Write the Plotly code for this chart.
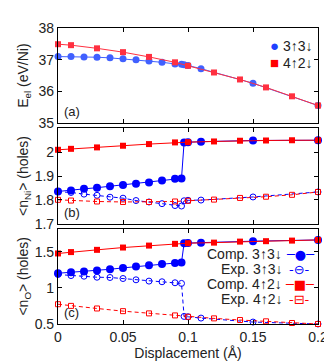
"""
Electronic energy and hole occupations vs. displacement, three stacked panels
"""

import plotly.graph_objects as go
from plotly.subplots import make_subplots

# displacement grids (Angstrom)
x_33 = [0, 0.01, 0.02, 0.03, 0.04, 0.05, 0.06, 0.07, 0.08, 0.09, 0.095, 0.097, 0.1, 0.11, 0.15, 0.2]
x_42 = [0, 0.01, 0.03, 0.05, 0.07, 0.09, 0.1, 0.12, 0.14, 0.16, 0.18, 0.2]

# (a) E_el (eV/Ni)
e_33 = [37.10, 37.10, 37.09, 37.08, 37.06, 37.03, 37.00, 36.96, 36.92, 36.87, 36.86, 36.84, 36.82, 36.72, 36.26, 35.56]
e_42 = [37.49, 37.46, 37.36, 37.24, 37.09, 36.92, 36.81, 36.60, 36.38, 36.13, 35.85, 35.56]

# (b) <n_Ni> (holes)
ni_comp_33 = [1.835, 1.839, 1.846, 1.851, 1.857, 1.862, 1.867, 1.873, 1.881, 1.888, 1.890, 2.041, 2.042, 2.044, 2.049, 2.050]
ni_exp_33 = [1.834, 1.831, 1.824, 1.819, 1.811, 1.807, 1.797, 1.791, 1.784, 1.776, 1.774, 1.796, 1.798, 1.799, 1.812, 1.833]
ni_comp_42 = [2.010, 2.014, 2.020, 2.027, 2.034, 2.041, 2.042, 2.045, 2.048, 2.049, 2.050, 2.050]
ni_exp_42 = [1.800, 1.797, 1.793, 1.791, 1.791, 1.793, 1.796, 1.801, 1.808, 1.813, 1.821, 1.833]

# (c) <n_O> (holes)
o_comp_33 = [1.203, 1.216, 1.226, 1.240, 1.258, 1.277, 1.295, 1.312, 1.330, 1.345, 1.353, 1.619, 1.623, 1.627, 1.647, 1.664]
o_exp_33 = [1.185, 1.171, 1.162, 1.148, 1.144, 1.130, 1.112, 1.094, 1.085, 1.071, 1.062, 0.605, 0.600, 0.582, 0.527, 0.500]
o_comp_42 = [1.477, 1.496, 1.527, 1.559, 1.586, 1.610, 1.619, 1.627, 1.641, 1.647, 1.655, 1.664]
o_exp_42 = [0.774, 0.751, 0.715, 0.678, 0.647, 0.619, 0.600, 0.578, 0.555, 0.537, 0.514, 0.500]

x_ticks = [0, 0.05, 0.1, 0.15, 0.2]
x_ticktext = ["0", "0.05", "0.1", "0.15", "0.2"]

BLUE = "#0000ff"
RED = "#ff0000"
FONT = "Liberation Sans, Arial, sans-serif"

fig = make_subplots(rows=3, cols=1, shared_xaxes=True, vertical_spacing=0.017)


def comp(x, y, color, symbol, size, row, lw=1):
    fig.add_trace(go.Scatter(x=x, y=y, mode="lines+markers",
                             line=dict(color=color, width=lw),
                             marker=dict(color=color, symbol=symbol, size=size),
                             showlegend=False, cliponaxis=False), row=row, col=1)


def exp(x, y, color, symbol, size, row):
    fig.add_trace(go.Scatter(x=x, y=y, mode="lines+markers",
                             line=dict(color=color, width=1, dash="4px,3px"),
                             marker=dict(color=color, symbol=symbol, size=size,
                                         line=dict(color=color, width=1)),
                             showlegend=False, cliponaxis=False), row=row, col=1)


# (a)
comp(x_33, e_33, "#4060ff", "circle", 7, 1)
comp(x_42, e_42, "#ff3040", "square", 6, 1)

# (b)
comp(x_33, ni_comp_33, BLUE, "circle", 8, 2)
exp(x_33, ni_exp_33, BLUE, "circle-open", 6, 2)
comp(x_42, ni_comp_42, RED, "square", 6, 2)
exp(x_42, ni_exp_42, RED, "square-open", 5, 2)

# (c)
comp(x_33, o_comp_33, BLUE, "circle", 8, 3)
exp(x_33, o_exp_33, BLUE, "circle-open", 6, 3)
comp(x_42, o_comp_42, RED, "square", 6, 3)
exp(x_42, o_exp_42, RED, "square-open", 5, 3)

axis_style = dict(showline=True, linecolor="black", linewidth=1.2, mirror="allticks",
                  ticks="inside", ticklen=4, tickcolor="black", tickwidth=1,
                  showgrid=False, zeroline=False,
                  tickfont=dict(family=FONT, size=14, color="#222"))

for r in (1, 2, 3):
    fig.update_xaxes(range=[0, 0.2], tickvals=x_ticks, ticktext=x_ticktext,
                     showticklabels=(r == 3), row=r, col=1, **axis_style)

fig.update_xaxes(title=dict(text="Displacement (Å)", standoff=4,
                            font=dict(family=FONT, size=14, color="#222")), row=3, col=1)

title_font = dict(family=FONT, size=14, color="#222")
fig.update_yaxes(range=[35, 38], tickvals=[35, 36, 37, 38], row=1, col=1,
                 title=dict(text="E<sub>el</sub> (eV/Ni)", font=title_font, standoff=6), **axis_style)
fig.update_yaxes(range=[1.7, 2.1], tickvals=[1.7, 1.8, 1.9, 2.0], ticktext=["1.7", "1.8", "1.9", "2"],
                 row=2, col=1,
                 title=dict(text="<n<sub>Ni</sub>> (holes)", font=title_font, standoff=2), **axis_style)
fig.update_yaxes(range=[0.5, 1.82], tickvals=[0.5, 1.0, 1.5], ticktext=["0.5", "1", "1.5"],
                 row=3, col=1,
                 title=dict(text="<n<sub>O</sub>> (holes)", font=title_font, standoff=2), **axis_style)

# panel tags
for r, tag in zip((1, 2, 3), ("(a)", "(b)", "(c)")):
    xref = "x domain" if r == 1 else f"x{r} domain"
    yref = "y domain" if r == 1 else f"y{r} domain"
    fig.add_annotation(text=tag, x=0.015, y=0.02, xref=xref, yref=yref,
                       xanchor="left", yanchor="bottom", showarrow=False,
                       font=dict(family=FONT, size=13, color="#222"))

# legend (a): symbol then label
leg_a = [("●", "#2040ff", "3↑3↓", 0.82), ("■", RED, "4↑2↓", 0.64)]
for sym, col, lab, yy in leg_a:
    fig.add_annotation(text=f'<span style="color:{col};font-size:15px">{sym}</span> {lab}',
                       x=0.99, y=yy, xref="x domain", yref="y domain",
                       xanchor="right", yanchor="middle", showarrow=False,
                       font=dict(family=FONT, size=14, color="#222"))

# legend (c): label then line sample
leg_c = [("Comp. 3↑3↓", "─●─", BLUE, 0.73),
         ("Exp. 3↑3↓", "-⊖-", BLUE, 0.575),
         ("Comp. 4↑2↓", "─■─", RED, 0.415),
         ("Exp. 4↑2↓", "-⊟-", RED, 0.26)]
for lab, sample, col, yy in leg_c:
    fig.add_annotation(text=lab, x=0.868, y=yy, xref="x3 domain", yref="y3 domain",
                       xanchor="right", yanchor="middle", showarrow=False,
                       font=dict(family=FONT, size=14, color="#222"))
    fig.add_annotation(text=sample, x=0.93, y=yy, xref="x3 domain", yref="y3 domain",
                       xanchor="center", yanchor="middle", showarrow=False,
                       font=dict(family="DejaVu Sans", size=13, color=col))

fig.update_layout(width=332, height=363, margin=dict(l=50, r=17, t=13, b=46),
                  plot_bgcolor="white", paper_bgcolor="white",
                  font=dict(family=FONT, size=14, color="#222"))

fig.write_html("out.html")
